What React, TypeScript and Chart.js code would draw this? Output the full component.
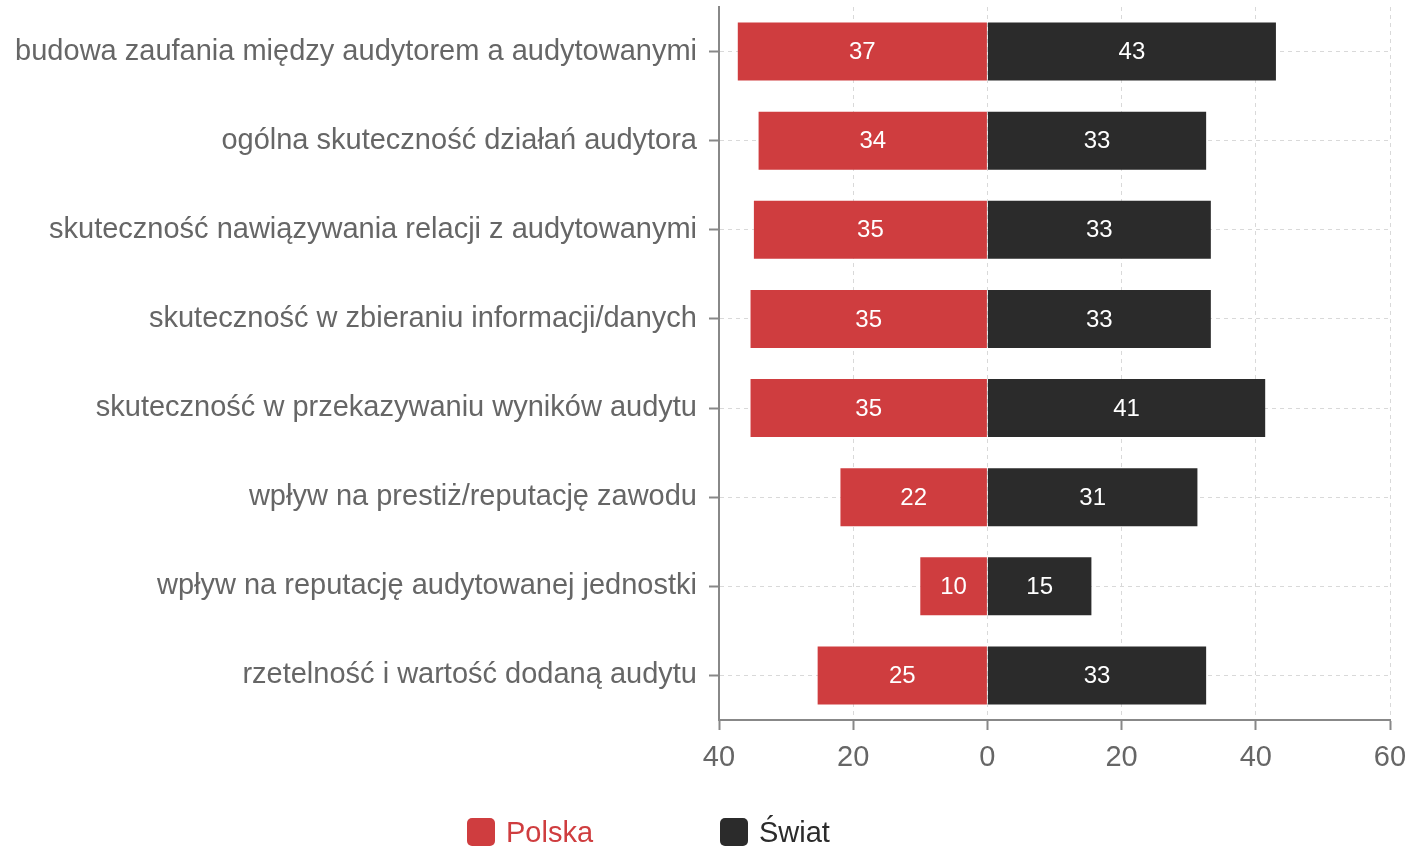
import React, { useEffect, useRef } from "react";
import { Chart, registerables } from "chart.js";

Chart.register(...registerables);

const categories = [
  "budowa zaufania między audytorem a audytowanymi",
  "ogólna skuteczność działań audytora",
  "skuteczność nawiązywania relacji z audytowanymi",
  "skuteczność w zbieraniu informacji/danych",
  "skuteczność w przekazywaniu wyników audytu",
  "wpływ na prestiż/reputację zawodu",
  "wpływ na reputację audytowanej jednostki",
  "rzetelność i wartość dodaną audytu",
];

// Polska values plotted to the left (negative), Świat to the right
const polskaValues = [37.2, 34.1, 34.8, 35.3, 35.3, 21.9, 10.0, 25.3];
const swiatValues = [43.0, 32.6, 33.3, 33.3, 41.4, 31.3, 15.5, 32.6];
const polskaLabels = [37, 34, 35, 35, 35, 22, 10, 25];
const swiatLabels = [43, 33, 33, 33, 41, 31, 15, 33];

const xTicks = [-40, -20, 0, 20, 40, 60];
const seriesNames = ["Polska", "Świat"];

const RED = "#CF3D3F";
const DARK = "#2B2B2B";
const FONT = "'Liberation Sans', Arial, sans-serif";

const valueLabelPlugin = {
  id: "valueLabels",
  afterDatasetsDraw(chart: any) {
    const ctx = chart.ctx;
    ctx.save();
    ctx.font = `24px ${FONT}`;
    ctx.fillStyle = "#ffffff";
    ctx.textAlign = "center";
    ctx.textBaseline = "middle";
    const labelSets = [polskaLabels, swiatLabels];
    chart.data.datasets.forEach((ds: any, di: number) => {
      const meta = chart.getDatasetMeta(di);
      meta.data.forEach((el: any, i: number) => {
        const cx = (el.x + el.base) / 2;
        ctx.fillText(String(labelSets[di][i]), cx, el.y + 1);
      });
    });
    ctx.restore();
  },
};

export default function App() {
  const canvasRef = useRef<HTMLCanvasElement>(null);

  useEffect(() => {
    document.body.style.margin = "0";
    const canvas = canvasRef.current;
    if (!canvas) return;
    const chart = new Chart(canvas, {
      type: "bar",
      data: {
        labels: categories,
        datasets: [
          {
            label: seriesNames[0],
            data: polskaValues.map((v) => -v),
            backgroundColor: RED,
            borderWidth: 0,
            barPercentage: 0.65,
            categoryPercentage: 1,
          },
          {
            label: seriesNames[1],
            data: swiatValues,
            backgroundColor: DARK,
            borderWidth: 0,
            barPercentage: 0.65,
            categoryPercentage: 1,
          },
        ],
      },
      options: {
        indexAxis: "y",
        responsive: false,
        animation: false,
        devicePixelRatio: 1,
        layout: { padding: { top: 7, right: 22, left: 0, bottom: 0 } },
        plugins: {
          legend: { display: false },
          tooltip: { enabled: false },
        },
        scales: {
          x: {
            stacked: true,
            min: -40,
            max: 60,
            afterFit: (scale: any) => {
              scale.height = 128;
              scale.paddingLeft = 0;
              scale.paddingRight = 0;
            },
            afterBuildTicks: (scale: any) => {
              scale.ticks = xTicks.map((v) => ({ value: v }));
            },
            ticks: {
              callback: (v: any) => String(Math.abs(Number(v))),
              font: { family: FONT, size: 29 },
              color: "#666666",
              padding: 11,
              maxRotation: 0,
            },
            grid: {
              color: "#d9d9d9",
              lineWidth: 1,
              tickColor: "#888888",
              tickLength: 10,
              tickWidth: 2,
              tickBorderDash: [],
            },
            border: { display: true, color: "#888888", width: 2, dash: [4, 4] },
          },
          y: {
            stacked: true,
            afterFit: (scale: any) => {
              scale.width = 719;
              scale.paddingTop = 0;
              scale.paddingBottom = 0;
            },
            ticks: {
              font: { family: FONT, size: 29 },
              color: "#666666",
              padding: 12,
            },
            grid: {
              offset: false,
              color: "#d9d9d9",
              lineWidth: 1,
              tickColor: "#888888",
              tickLength: 10,
              tickWidth: 2,
              tickBorderDash: [],
            },
            border: { display: true, color: "#888888", width: 2, dash: [4, 4] },
          },
        },
      },
      plugins: [valueLabelPlugin],
    });
    return () => chart.destroy();
  }, []);

  const legendItem = (name: string, color: string, textColor: string, left: number) => (
    <div
      style={{
        position: "absolute",
        left,
        top: 816,
        display: "flex",
        alignItems: "center",
        fontFamily: FONT,
        fontSize: 29,
        color: textColor,
        lineHeight: "32px",
      }}
    >
      <span
        style={{
          display: "inline-block",
          width: 28,
          height: 28,
          borderRadius: 5,
          background: color,
          marginRight: 11,
        }}
      />
      <span>{name}</span>
    </div>
  );

  return (
    <div style={{ position: "relative", width: 1412, height: 848, background: "#fff", overflow: "hidden" }}>
      <canvas ref={canvasRef} width={1412} height={848} style={{ display: "block" }} />
      {legendItem(seriesNames[0], RED, RED, 467)}
      {legendItem(seriesNames[1], DARK, DARK, 720)}
    </div>
  );
}
